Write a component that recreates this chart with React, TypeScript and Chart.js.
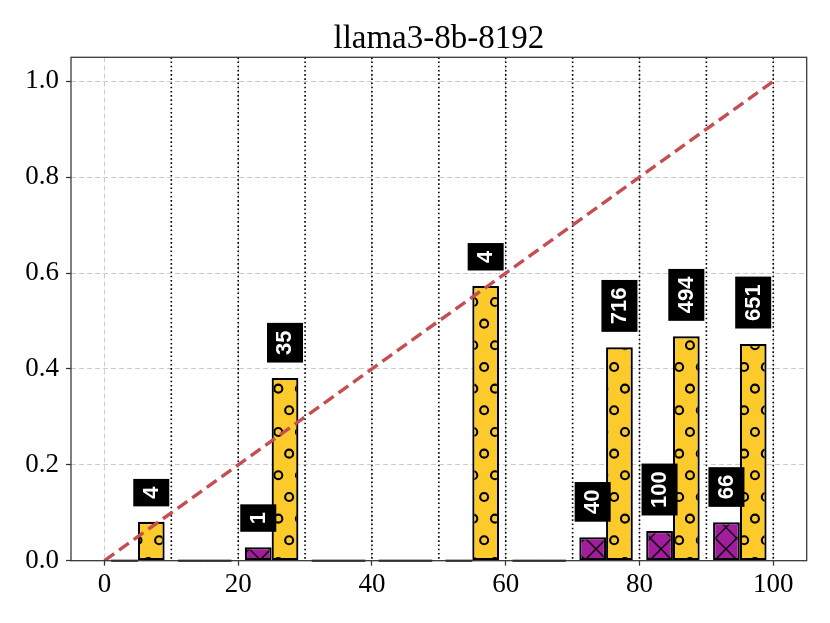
import React, { useEffect, useRef } from "react";
import { Chart, registerables } from "chart.js";

Chart.register(...registerables);

// ---- data ----
const chartTitle = "llama3-8b-8192";
const binCenters = [5, 15, 25, 35, 45, 55, 65, 75, 85, 95];
const purpleValues = [0, 0, 0.028, 0, 0, 0, 0, 0.049, 0.062, 0.08];
const yellowValues = [0.081, 0, 0.381, 0, 0, 0.573, 0, 0.445, 0.468, 0.452];
const purpleCounts = [0, 0, 1, 0, 0, 0, 0, 40, 100, 66];
const yellowCounts = [4, 0, 35, 0, 0, 4, 0, 716, 494, 651];
const binEdges = [10, 20, 30, 40, 50, 60, 70, 80, 90, 100];
const xTicks = [0, 20, 40, 60, 80, 100];
const yTicks = [0, 0.2, 0.4, 0.6, 0.8, 1.0];
const diagonal = [
  { x: 0, y: 0 },
  { x: 100, y: 1 },
];

const YELLOW = "#fcca2a";
const PURPLE = "#a21d9b";
const SERIF = '"Liberation Serif", "Times New Roman", serif';

function circlePattern(bg: string): CanvasPattern | string {
  const D = 65 / 3;
  const c = document.createElement("canvas");
  c.width = 65;
  c.height = 130;
  const g = c.getContext("2d");
  if (!g) return bg;
  g.fillStyle = bg;
  g.fillRect(0, 0, 65, 130);
  g.strokeStyle = "#000";
  g.lineWidth = 2.1;
  const x0 = 18.3;
  const y0 = 20.3;
  for (let j = -1; j <= 7; j++) {
    const cy = y0 + j * D;
    const odd = ((j % 2) + 2) % 2 === 1;
    const px = odd ? x0 : (x0 + D / 2) % D;
    for (let i = -2; i <= 4; i++) {
      const cx = px + i * D;
      g.beginPath();
      g.arc(cx, cy, 4.0, 0, Math.PI * 2);
      g.stroke();
    }
  }
  return g.createPattern(c, "repeat") || bg;
}

function crossPattern(bg: string): CanvasPattern | string {
  const D = 65 / 3;
  const c = document.createElement("canvas");
  c.width = 65;
  c.height = 65;
  const g = c.getContext("2d");
  if (!g) return bg;
  g.fillStyle = bg;
  g.fillRect(0, 0, 65, 65);
  g.strokeStyle = "#000";
  g.lineWidth = 1.3;
  const c1 = 18;
  const c2 = 18.3;
  for (let k = -7; k <= 9; k++) {
    g.beginPath();
    g.moveTo(-10, -10 + c1 + k * D);
    g.lineTo(75, 75 + c1 + k * D);
    g.stroke();
    g.beginPath();
    g.moveTo(-10, 10 + c2 + k * D);
    g.lineTo(75, -75 + c2 + k * D);
    g.stroke();
  }
  return g.createPattern(c, "repeat") || bg;
}

const edgesPlugin = {
  id: "binEdges",
  beforeDatasetsDraw(chart: any) {
    const { ctx, chartArea } = chart;
    const xs = chart.scales.x;
    ctx.save();
    ctx.strokeStyle = "#000";
    ctx.lineWidth = 1.6;
    ctx.setLineDash([1.6, 2.6]);
    binEdges.forEach((v) => {
      const px = xs.getPixelForValue(v);
      ctx.beginPath();
      ctx.moveTo(px, chartArea.top);
      ctx.lineTo(px, chartArea.bottom);
      ctx.stroke();
    });
    ctx.restore();
  },
};

// zero-height bars still show their black outline along the baseline
const zeroBarsPlugin = {
  id: "zeroBars",
  afterDatasetsDraw(chart: any) {
    const { ctx } = chart;
    ctx.save();
    ctx.strokeStyle = "#000";
    ctx.lineWidth = 2;
    ctx.setLineDash([]);
    [1, 2].forEach((idx) => {
      const meta = chart.getDatasetMeta(idx);
      const vals = idx === 1 ? purpleValues : yellowValues;
      meta.data.forEach((bar: any, i: number) => {
        if (vals[i] !== 0) return;
        ctx.beginPath();
        ctx.moveTo(bar.x - bar.width / 2, bar.y);
        ctx.lineTo(bar.x + bar.width / 2, bar.y);
        ctx.stroke();
      });
    });
    ctx.restore();
  },
};

const framePlugin = {
  id: "frame",
  afterDatasetsDraw(chart: any) {
    const { ctx, chartArea } = chart;
    ctx.save();
    ctx.strokeStyle = "#333";
    ctx.lineWidth = 1.25;
    ctx.setLineDash([]);
    ctx.strokeRect(
      chartArea.left,
      chartArea.top,
      chartArea.right - chartArea.left,
      chartArea.bottom - chartArea.top
    );
    ctx.restore();
  },
};

const labelsPlugin = {
  id: "countLabels",
  afterDatasetsDraw(chart: any) {
    const { ctx } = chart;
    const sets = [
      { idx: 1, counts: purpleCounts },
      { idx: 2, counts: yellowCounts },
    ];
    ctx.save();
    ctx.font = 'bold 22px "Liberation Sans", Arial, sans-serif';
    sets.forEach(({ idx, counts }) => {
      const meta = chart.getDatasetMeta(idx);
      meta.data.forEach((bar: any, i: number) => {
        const n = counts[i];
        if (!n) return;
        const txt = String(n);
        const w = ctx.measureText(txt).width;
        const along = w + 15.2;
        const cross = 36;
        const cx = bar.x;
        const bottom = bar.y - 15.5;
        const cy = bottom - along / 2;
        ctx.fillStyle = "#000";
        ctx.fillRect(cx - cross / 2, bottom - along, cross, along);
        ctx.save();
        ctx.translate(cx, cy);
        ctx.rotate(-Math.PI / 2);
        ctx.fillStyle = "#fff";
        ctx.textAlign = "center";
        ctx.textBaseline = "alphabetic";
        ctx.fillText(txt, 0, (0.716 * 22) / 2 - 1.5);
        ctx.restore();
      });
    });
    ctx.restore();
  },
};

export default function App() {
  const ref = useRef<HTMLCanvasElement | null>(null);

  useEffect(() => {
    const canvas = ref.current;
    if (!canvas) return;
    const purplePat = crossPattern(PURPLE);
    const yellowPat = circlePattern(YELLOW);

    const tickFont = { family: SERIF, size: 27, weight: "normal" as const };

    const chart = new Chart(canvas, {
      type: "bar",
      data: {
        datasets: [
          {
            type: "line",
            data: diagonal,
            borderColor: "#c44e52",
            borderWidth: 3.4,
            borderDash: [12, 6],
            pointRadius: 0,
            fill: false,
            tension: 0,
            order: 0,
          } as any,
          {
            type: "bar",
            data: binCenters.map((x, i) => ({ x, y: purpleValues[i] })),
            backgroundColor: purplePat as any,
            borderColor: "#000",
            borderWidth: 2.2,
            borderSkipped: false,
            categoryPercentage: 0.8,
            barPercentage: 1,
            order: 1,
          } as any,
          {
            type: "bar",
            data: binCenters.map((x, i) => ({ x, y: yellowValues[i] })),
            backgroundColor: yellowPat as any,
            borderColor: "#000",
            borderWidth: 2.2,
            borderSkipped: false,
            categoryPercentage: 0.8,
            barPercentage: 1,
            order: 1,
          } as any,
        ],
      },
      options: {
        animation: false,
        responsive: false,
        maintainAspectRatio: false,
        layout: { padding: { left: 0, right: 23.3, top: 0, bottom: 0 } },
        plugins: {
          legend: { display: false },
          tooltip: { enabled: false },
          title: {
            display: true,
            fullSize: false,
            text: chartTitle,
            color: "#000",
            font: { family: SERIF, size: 33, weight: "normal" },
            padding: { top: 19.5, bottom: -1.8 },
          },
        },
        scales: {
          x: {
            type: "linear",
            min: -5,
            max: 105,
            offset: false,
            afterBuildTicks: (s: any) => {
              s.ticks = xTicks.map((v) => ({ value: v }));
            },
            afterFit: (s: any) => {
              s.height = 62.3;
            },
            grid: {
              offset: false,
              color: "#cccccc",
              lineWidth: 1,
              tickColor: "#333",
              tickLength: 5,
              tickWidth: 1.25,
              tickBorderDash: [],
            } as any,
            border: { display: false, dash: [5, 3] },
            ticks: {
              color: "#000",
              font: tickFont,
              padding: 3,
              maxRotation: 0,
              autoSkip: false,
              callback: (v: any) => String(v),
            },
          },
          y: {
            type: "linear",
            min: 0,
            max: 1.05,
            afterBuildTicks: (s: any) => {
              s.ticks = yTicks.map((v) => ({ value: v }));
            },
            afterFit: (s: any) => {
              s.width = 71;
            },
            grid: {
              color: "#cccccc",
              lineWidth: 1,
              tickColor: "#333",
              tickLength: 5,
              tickWidth: 1.25,
              tickBorderDash: [],
            } as any,
            border: { display: false, dash: [5, 3] },
            ticks: {
              color: "#000",
              font: tickFont,
              padding: 7,
              autoSkip: false,
              callback: (v: any) => Number(v).toFixed(1),
            },
          },
        },
      },
      plugins: [edgesPlugin, zeroBarsPlugin, framePlugin, labelsPlugin],
    });

    return () => {
      chart.destroy();
    };
  }, []);

  return (
    <div style={{ position: "absolute", left: 0, top: 0, width: 830, height: 623, background: "#fff" }}>
      <canvas ref={ref} width={830} height={623} style={{ width: 830, height: 623, display: "block" }} />
    </div>
  );
}
